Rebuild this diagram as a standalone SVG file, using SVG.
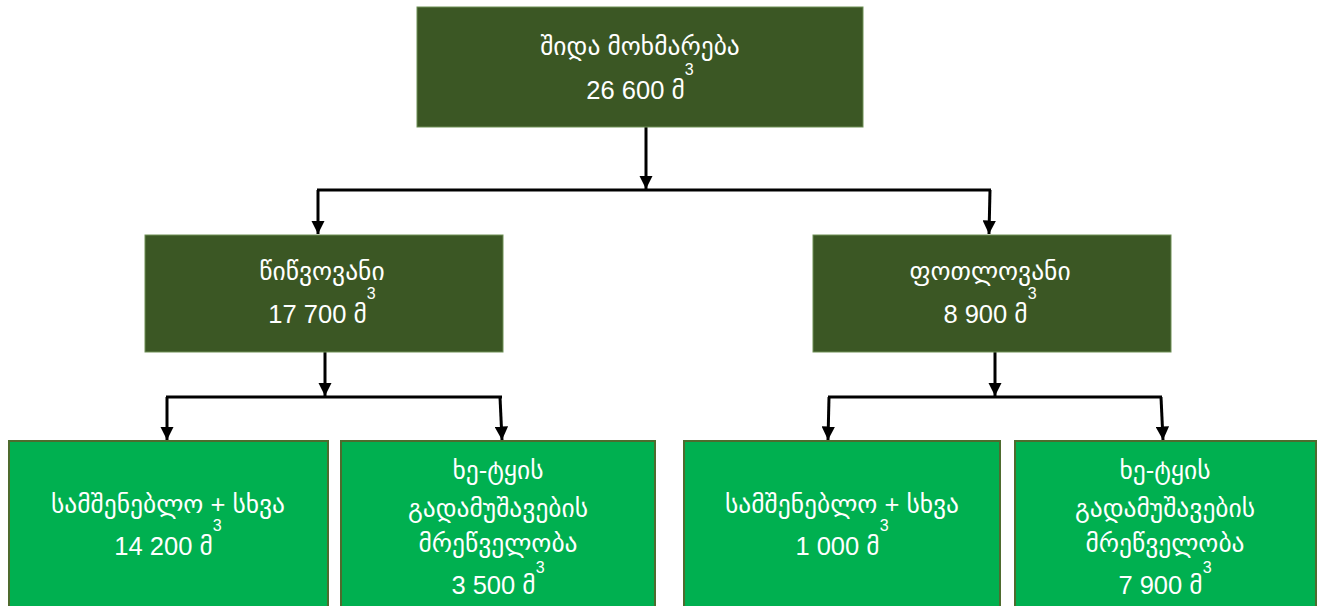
<svg xmlns="http://www.w3.org/2000/svg" width="1324" height="606" viewBox="0 0 1324 606">
<style>
.dark{fill:#3B5724;stroke:#6E8F55;stroke-width:1}
.light{fill:#00B050;stroke:#4E6B2E;stroke-width:2}
.t{font-family:"Liberation Sans","DejaVu Sans",sans-serif;font-size:25.5px;fill:#ffffff;text-anchor:middle}
.s{font-size:16px}
.c{stroke:#000;stroke-width:3;fill:none}
</style>
<defs>
<marker id="ah" viewBox="0 0 10 10" refX="10" refY="5" markerWidth="4.5" markerHeight="4.5" markerUnits="strokeWidth" orient="auto">
<path d="M0,0 L10,5 L0,10 z" fill="#000"/>
</marker>
</defs>
<rect width="1324" height="606" fill="#ffffff"/>
<g id="connectors">
<path class="c" d="M646,122 L646,189" marker-end="url(#ah)"/>
<path class="c" d="M317,190 L991,190"/>
<path class="c" d="M318,190 L318,234" marker-end="url(#ah)"/>
<path class="c" d="M990,190 L989,234" marker-end="url(#ah)"/>
<path class="c" d="M325,352 L325,396" marker-end="url(#ah)"/>
<path class="c" d="M166,397 L502,397"/>
<path class="c" d="M167,397 L167,440" marker-end="url(#ah)"/>
<path class="c" d="M500,397 L502,440" marker-end="url(#ah)"/>
<path class="c" d="M995,352 L995,396" marker-end="url(#ah)"/>
<path class="c" d="M828,397 L1162,397"/>
<path class="c" d="M829,397 L828,440" marker-end="url(#ah)"/>
<path class="c" d="M1161,397 L1163,440" marker-end="url(#ah)"/>
</g>
<g id="n-total">
<rect class="dark" x="417" y="7" width="446" height="120"/>
<text class="t" x="640" y="55">შიდა მოხმარება</text>
<text class="t" x="640" y="99">26 600 მ<tspan class="s" dy="-24">3</tspan></text>
</g>
<g id="n-conifer">
<rect class="dark" x="145" y="235" width="358" height="117"/>
<text class="t" x="322" y="280">წიწვოვანი</text>
<text class="t" x="322" y="323">17 700 მ<tspan class="s" dy="-24">3</tspan></text>
</g>
<g id="n-leaf">
<rect class="dark" x="813" y="235" width="358" height="117"/>
<text class="t" x="990" y="280">ფოთლოვანი</text>
<text class="t" x="990" y="323">8 900 მ<tspan class="s" dy="-24">3</tspan></text>
</g>
<g id="n-conifer-build">
<rect class="light" x="9" y="441" width="319" height="175"/>
<text class="t" x="168" y="513">სამშენებლო + სხვა</text>
<text class="t" x="168" y="555">14 200 მ<tspan class="s" dy="-24">3</tspan></text>
</g>
<g id="n-conifer-wood">
<rect class="light" x="341" y="441" width="314" height="175"/>
<text class="t" x="498" y="479">ხე-ტყის</text>
<text class="t" x="498" y="517">გადამუშავების</text>
<text class="t" x="498" y="552">მრეწველობა</text>
<text class="t" x="498" y="594">3 500 მ<tspan class="s" dy="-21">3</tspan></text>
</g>
<g id="n-leaf-build">
<rect class="light" x="684" y="441" width="316" height="175"/>
<text class="t" x="842" y="513">სამშენებლო + სხვა</text>
<text class="t" x="842" y="555">1 000 მ<tspan class="s" dy="-24">3</tspan></text>
</g>
<g id="n-leaf-wood">
<rect class="light" x="1015" y="441" width="301" height="175"/>
<text class="t" x="1165" y="479">ხე-ტყის</text>
<text class="t" x="1165" y="517">გადამუშავების</text>
<text class="t" x="1165" y="552">მრეწველობა</text>
<text class="t" x="1165" y="594">7 900 მ<tspan class="s" dy="-21">3</tspan></text>
</g>
</svg>
